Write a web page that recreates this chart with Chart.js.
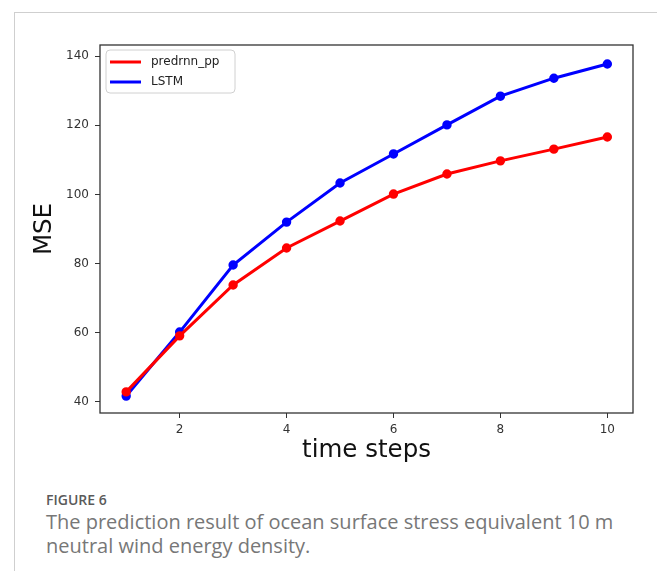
<!DOCTYPE html>
<html>
<head>
<meta charset="utf-8">
<script src="https://cdn.jsdelivr.net/npm/chart.js@4"></script>
<style>
  body { margin: 0; background: #fff; width: 657px; height: 571px; overflow: hidden; position: relative; }
  .box { position: absolute; left: 14px; top: 12px; width: 642px; height: 620px; border: 1px solid #cfcfcf; border-bottom: none; }
  .chartWrap { position: absolute; left: 0; top: 0; width: 657px; height: 480px; }
  .caption { position: absolute; left: 46px; top: 490px; width: 600px; font-family: "Open Sans", sans-serif; color: #777; }
  .caption .fig { font-size: 14px; font-weight: 600; color: #5a5a5a; line-height: 20px; }
  .caption .txt { font-size: 20px; line-height: 24px; }
</style>
</head>
<body>
<div class="box"></div>
<div class="chartWrap"><canvas id="mseChart"></canvas></div>
<div class="caption">
  <div class="fig">FIGURE 6</div>
  <div class="txt">The prediction result of ocean surface stress equivalent 10 m neutral wind energy density.</div>
</div>
<script>
// Data
const timeSteps = [1, 2, 3, 4, 5, 6, 7, 8, 9, 10];
const predrnnValues = [42.9, 59.1, 73.8, 84.5, 92.3, 100.1, 105.9, 109.7, 113.1, 116.6];
const lstmValues = [41.7, 60.2, 79.6, 92.0, 103.3, 111.7, 120.1, 128.4, 133.6, 137.7];
const xTicks = [2, 4, 6, 8, 10];
const yTicks = [40, 60, 80, 100, 120, 140];

const mpFont = 'DejaVu Sans';

// Matplotlib-like axes box and inside legend
const framePlugin = {
    id: 'frame',
    afterDatasetsDraw(chart) {
        const { ctx, chartArea: a } = chart;
        ctx.save();
        ctx.strokeStyle = '#333';
        ctx.lineWidth = 1.3;
        ctx.strokeRect(a.left, a.top, a.right - a.left, a.bottom - a.top);

        // legend, upper left
        const lx = a.left + 6, ly = a.top + 5, lw = 129, lh = 43;
        ctx.beginPath();
        ctx.roundRect(lx, ly, lw, lh, 4);
        ctx.fillStyle = 'rgba(255,255,255,0.8)';
        ctx.fill();
        ctx.strokeStyle = '#d0d0d0';
        ctx.lineWidth = 1;
        ctx.stroke();
        ctx.font = '12px "' + mpFont + '"';
        ctx.textBaseline = 'middle';
        chart.data.datasets.forEach((ds, i) => {
            const y = ly + 12 + i * 20;
            ctx.beginPath();
            ctx.moveTo(lx + 4, y);
            ctx.lineTo(lx + 35, y);
            ctx.strokeStyle = ds.borderColor;
            ctx.lineWidth = 3;
            ctx.stroke();
            ctx.fillStyle = '#222';
            ctx.fillText(ds.label, lx + 45, y);
        });
        ctx.restore();
    }
};

const ctx = document.getElementById('mseChart').getContext('2d');
new Chart(ctx, {
    type: 'line',
    data: {
        datasets: [
            {
                label: 'predrnn_pp',
                data: timeSteps.map((x, i) => ({ x: x, y: predrnnValues[i] })),
                borderColor: '#ff0000',
                backgroundColor: '#ff0000',
                borderWidth: 3,
                pointRadius: 3.2,
                pointHoverRadius: 3.2
            },
            {
                label: 'LSTM',
                data: timeSteps.map((x, i) => ({ x: x, y: lstmValues[i] })),
                borderColor: '#0000ff',
                backgroundColor: '#0000ff',
                borderWidth: 3,
                pointRadius: 3.2,
                pointHoverRadius: 3.2
            }
        ]
    },
    options: {
        responsive: true,
        maintainAspectRatio: false,
        animation: false,
        layout: { padding: { left: 0, top: 45, right: 24, bottom: 17 } },
        plugins: {
            legend: { display: false },
            tooltip: { enabled: false }
        },
        scales: {
            x: {
                type: 'linear',
                min: 0.51,
                max: 10.48,
                afterBuildTicks: axis => { axis.ticks = xTicks.map(v => ({ value: v })); },
                afterFit: scale => { scale.height = 50; },
                grid: { drawOnChartArea: false, drawTicks: true, tickLength: 5, tickColor: '#333' },
                border: { display: false },
                ticks: { color: '#333', padding: 5, font: { family: mpFont, size: 12 } },
                title: {
                    display: true,
                    text: 'time steps',
                    color: '#111',
                    padding: 0,
                    font: { family: mpFont, size: 24.5, lineHeight: 1 }
                }
            },
            y: {
                min: 36.8,
                max: 143.2,
                afterBuildTicks: axis => { axis.ticks = yTicks.map(v => ({ value: v })); },
                afterFit: scale => { scale.width = 100; },
                grid: { drawOnChartArea: false, drawTicks: true, tickLength: 5, tickColor: '#333' },
                border: { display: false },
                ticks: { color: '#333', padding: 6, font: { family: mpFont, size: 12 } },
                title: {
                    display: true,
                    text: 'MSE',
                    color: '#111',
                    padding: { top: 32, bottom: 0 },
                    font: { family: mpFont, size: 24.5, lineHeight: 1 }
                }
            }
        }
    },
    plugins: [framePlugin]
});
</script>
</body>
</html>
